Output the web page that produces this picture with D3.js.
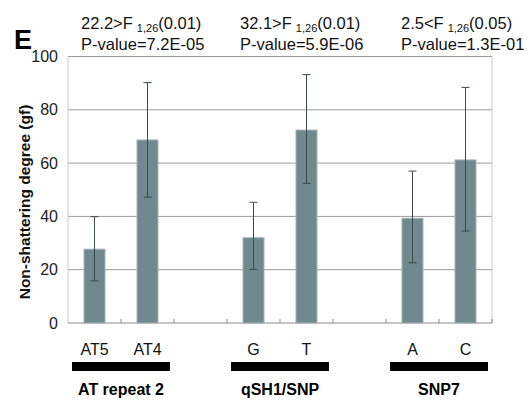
<!DOCTYPE html>
<html><head><meta charset="utf-8">
<script src="https://cdn.jsdelivr.net/npm/d3@7"></script>
<style>body{margin:0;background:#fff}svg{display:block;font-family:"Liberation Sans",Arial,sans-serif}</style>
</head><body>
<svg id="c" width="529" height="402"></svg>
<script>
const slots = ["AT5","AT4","gap1","G","T","gap2","A","C"];
const categories = ["AT5","AT4","G","T","A","C"];
const means = [27.7, 68.7, 32.0, 72.4, 39.3, 61.2];
const errLow = [15.8, 47.2, 20.1, 52.4, 22.6, 34.5];
const errHigh = [39.9, 90.2, 45.3, 93.2, 57.0, 88.4];
const yTicks = [0,20,40,60,80,100];
const groups = ["AT repeat 2","qSH1/SNP","SNP7"];
const groupMembers = [["AT5","AT4"],["G","T"],["A","C"]];
const fStat = ["22.2>F","32.1>F","2.5<F"];
const fSub = ["1,26","1,26","1,26"];
const fLevel = ["(0.01)","(0.01)","(0.05)"];
const pValues = ["P-value=7.2E-05","P-value=5.9E-06","P-value=1.3E-01"];
const headerX = [81, 240, 401];

const svg = d3.select("#c");
const L=68, R=492, T=56.5, B=323;
const x = d3.scaleBand().domain(slots).range([L,R]).padding(0);
const y = d3.scaleLinear().domain([0,100]).range([B,T]);

// gridlines
svg.append("g").selectAll("line").data(yTicks.filter(d=>d>0)).join("line")
  .attr("x1",L).attr("x2",R).attr("y1",d=>y(d)).attr("y2",d=>y(d))
  .attr("stroke","#9a9a9a").attr("stroke-width",1);
// borders
svg.append("line").attr("x1",L).attr("x2",L).attr("y1",T).attr("y2",B).attr("stroke","#c8c8c8");
svg.append("line").attr("x1",R).attr("x2",R).attr("y1",T).attr("y2",B).attr("stroke","#c8c8c8");

// y axis labels
const yAxis = d3.axisLeft(y).tickValues(yTicks).tickSize(0).tickPadding(0);
const ya = svg.append("g").attr("transform",`translate(${L-10},0)`).call(yAxis);
ya.select(".domain").remove();
ya.selectAll("text").attr("font-size",16).attr("fill","#222").attr("font-family","Liberation Sans, Arial, sans-serif");

// x axis baseline with ticks
const xa = svg.append("g").attr("transform",`translate(0,${B})`);
xa.append("line").attr("x1",L).attr("x2",R).attr("stroke","#8a8a8a");
xa.selectAll("line.t").data(slots.slice(1).map(s=>x(s)).concat([R])).join("line").attr("class","t")
  .attr("x1",d=>d).attr("x2",d=>d).attr("y1",0).attr("y2",-4).attr("stroke","#8a8a8a");

// bars
const bw = 21;
svg.append("g").selectAll("rect").data(categories).join("rect")
  .attr("x",(d)=>x(d)+x.bandwidth()/2-bw/2).attr("width",bw)
  .attr("y",(d,i)=>y(means[i])).attr("height",(d,i)=>B-y(means[i]))
  .attr("fill","#6f898e").attr("stroke","#a4b4b7").attr("stroke-width",1);

// error bars
const eg = svg.append("g").attr("stroke","#3c4a4d").attr("stroke-width",1);
categories.forEach((c,i)=>{
  const cx = x(c)+x.bandwidth()/2;
  eg.append("line").attr("x1",cx).attr("x2",cx).attr("y1",y(errHigh[i])).attr("y2",y(errLow[i]));
  eg.append("line").attr("x1",cx-4).attr("x2",cx+4).attr("y1",y(errHigh[i])).attr("y2",y(errHigh[i]));
  eg.append("line").attr("x1",cx-4).attr("x2",cx+4).attr("y1",y(errLow[i])).attr("y2",y(errLow[i]));
});

// category labels
svg.append("g").selectAll("text").data(categories).join("text")
  .attr("x",d=>x(d)+x.bandwidth()/2).attr("y",355).attr("text-anchor","middle")
  .attr("font-size",16).attr("fill","#111").text(d=>d);

// group bars and labels
groups.forEach((g,i)=>{
  const a = x(groupMembers[i][0])+x.bandwidth()/2, b = x(groupMembers[i][1])+x.bandwidth()/2;
  const cx=(a+b)/2;
  svg.append("rect").attr("x",cx-49).attr("width",98).attr("y",362).attr("height",9).attr("fill","#000");
  svg.append("text").attr("x",cx).attr("y",395).attr("text-anchor","middle")
    .attr("font-size",16).attr("font-weight","bold").attr("fill","#000").text(g);
});

// y title
svg.append("text").attr("transform","translate(30,202) rotate(-90)").attr("text-anchor","middle")
  .attr("font-size",15.5).attr("font-weight","bold").attr("fill","#111").text("Non-shattering degree (gf)");

// panel letter
svg.append("text").attr("x",14).attr("y",49).attr("font-size",27).attr("font-weight","bold").text("E");

// headers
headerX.forEach((hx,i)=>{
  const t = svg.append("text").attr("x",hx).attr("y",29).attr("font-size",16.5).attr("fill","#111");
  t.append("tspan").text(fStat[i]);
  t.append("tspan").attr("dx",4).attr("dy",3).attr("font-size",11).text(fSub[i]);
  t.append("tspan").attr("dy",-3).text(fLevel[i]);
  svg.append("text").attr("x",hx).attr("y",50).attr("font-size",16.5).attr("fill","#111").text(pValues[i]);
});
</script>
</body></html>
